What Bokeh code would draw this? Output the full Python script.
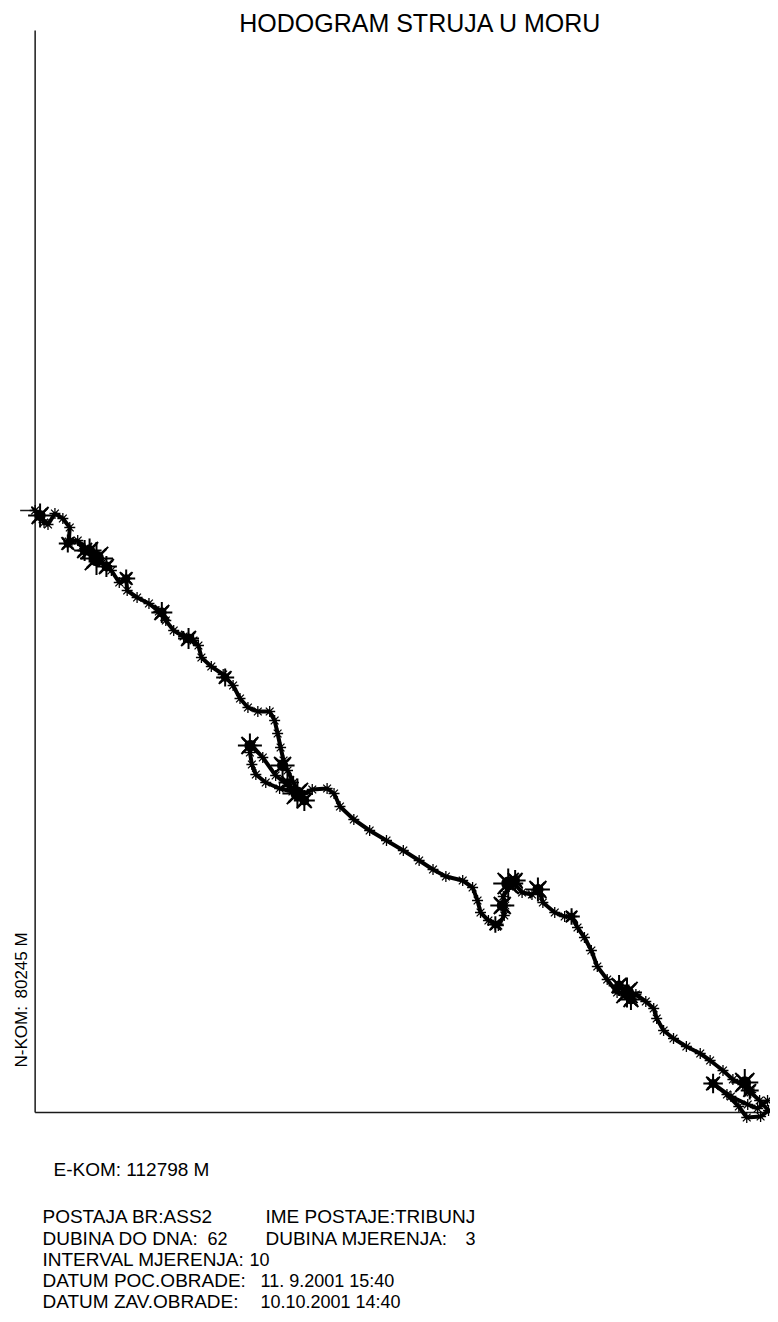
import math
from bokeh.plotting import figure
from bokeh.models import Range1d, Label
from bokeh.embed import file_html
from bokeh.resources import INLINE

# progressive vector path (km east, km north from the start point)
path_e = [0.0, 0.75, 1.35, 1.95, 3.0, 4.2, 5.25, 5.1, 6.45, 7.5, 9.0, 10.2, 11.55, 12.75, 13.8,
          13.95, 15.45, 17.25, 18.75, 19.8, 21.0, 22.5, 24.0, 24.75, 25.2, 26.7, 28.5, 30.0,
          31.05, 32.25, 33.75, 35.55, 36.3, 36.75, 37.2, 37.65, 38.25, 39.15, 39.9, 38.55,
          36.45, 34.5, 32.85, 32.55, 32.85, 33.45, 34.95, 37.05, 39.0, 40.5, 42.0, 44.25,
          45.3, 46.2, 48.3, 50.7, 53.25, 55.8, 58.2, 60.3, 62.25, 64.8, 66.3, 67.05, 67.5,
          68.7, 70.2, 71.1, 71.25, 70.95, 71.85, 72.75, 73.8, 75.3, 76.35, 76.95, 78.75,
          80.25, 81.3, 82.2, 83.25, 84.3, 85.2, 86.7, 88.2, 89.7, 91.05, 92.55, 93.75, 94.2,
          95.25, 96.75, 98.7, 100.8, 102.3, 104.25, 105.75, 107.25, 108.45, 109.8, 111.15,
          109.95, 107.85, 106.65, 104.85, 102.75, 105.45, 108.0, 109.5, 111.0]
path_n = [0.0, -0.75, -1.8, -2.1, -0.45, -1.2, -2.55, -4.65, -4.5, -5.7, -6.9, -7.8, -9.0,
          -10.8, -10.2, -12.0, -13.05, -13.95, -15.15, -16.5, -18.0, -18.9, -19.5, -20.25,
          -22.05, -23.4, -24.6, -26.25, -28.2, -29.55, -30.15, -30.15, -31.5, -33.45, -35.55,
          -37.5, -39.0, -40.8, -42.3, -41.4, -39.75, -37.05, -35.25, -36.3, -38.1, -39.6,
          -40.8, -41.7, -42.15, -42.6, -41.85, -41.7, -42.45, -44.4, -46.35, -48.0, -49.5,
          -51.0, -52.5, -53.85, -54.9, -55.5, -56.55, -58.5, -60.3, -61.5, -62.25, -60.75,
          -59.25, -57.9, -56.4, -56.1, -57.3, -57.6, -56.85, -58.8, -60.3, -60.9, -60.9,
          -62.55, -64.05, -66.0, -68.4, -70.35, -72.3, -72.45, -72.6, -73.65, -74.7, -76.2,
          -78.0, -79.2, -80.4, -81.45, -82.5, -84.0, -85.35, -86.1, -87.3, -88.5, -90.0,
          -90.9, -91.05, -89.4, -87.6, -85.95, -87.9, -89.1, -89.7, -88.5]

# clusters of oscillating (tidal) vectors
burst_e = [0.75, 4.95, 9.3, 8.25, 13.8, 19.2, 23.25, 28.8, 39.75, 32.55, 37.5, 71.7, 70.8,
           76.2, 81.3, 89.7, 107.55, 102.75, 69.75, 7.5, 10.8, 72.75, 88.5, 90.3, 38.25,
           40.8, 108.3]
burst_n = [-0.75, -4.95, -7.2, -6.0, -10.2, -15.3, -19.2, -25.05, -42.45, -35.25, -38.25,
           -55.95, -59.25, -56.85, -60.9, -72.3, -85.8, -85.95, -62.1, -6.0, -8.4, -55.5,
           -71.25, -73.35, -40.8, -43.5, -87.0]
burst_size = [16, 12, 22, 16, 12, 14, 14, 12, 20, 16, 16, 20, 16, 16, 11, 20, 18, 13, 11,
              14, 14, 14, 14, 14, 12, 14, 12]

# axis extents (km)
axis_e = [0.0, 111.45]
axis_n = [-90.3, 72.0]
tick_n = [0.0]

title_text = "HODOGRAM STRUJA U MORU"
n_label = ["N-KOM:", "80245 M"]
e_label = "E-KOM: 112798 M"
info_left = ["POSTAJA BR:ASS2", "DUBINA DO DNA:", "INTERVAL MJERENJA:", "DATUM POC.OBRADE:",
             "DATUM ZAV.OBRADE:"]
info_left_val = ["", "62", "10", "11. 9.2001 15:40", "10.10.2001 14:40"]
info_right = ["IME POSTAJE:TRIBUNJ", "DUBINA MJERENJA:", "", "", ""]
info_right_val = ["", "3", "", "", ""]

W, H = 770, 1314
X0, X1 = -5.25, 111.45
Y0, Y1 = -120.6, 76.5

p = figure(width=W, height=H, output_backend="svg", toolbar_location=None,
           x_range=Range1d(X0, X1), y_range=Range1d(Y0, Y1),
           x_axis_location=None, y_axis_location=None, min_border=0)
p.outline_line_color = None
p.background_fill_color = "white"
p.border_fill_color = "white"
for g in p.grid:
    g.visible = False

KM_PER_PX_X = (X1 - X0) / W
AX_COL = "#1a1a1a"
# axes
p.line([axis_e[0], axis_e[0]], [axis_n[0], axis_n[1]], line_color=AX_COL, line_width=1.5)
p.line([axis_e[0], axis_e[1]], [axis_n[0], axis_n[0]], line_color=AX_COL, line_width=1.5)
p.segment(x0=[axis_e[0] - 15 * KM_PER_PX_X], y0=tick_n, x1=[axis_e[0]], y1=tick_n,
          line_color=AX_COL, line_width=1.5)

# hodograph
p.line(path_e, path_n, line_color="black", line_width=4)
p.scatter(path_e, path_n, marker="asterisk", size=11, line_color="black", line_width=1.3)
p.scatter(burst_e, burst_n, marker="asterisk", size=[s * 1.5 for s in burst_size],
          line_color="black", line_width=2)
p.scatter(burst_e, burst_n, marker="x", size=[s * 1.25 for s in burst_size],
          line_color="black", line_width=2.5)
p.scatter(burst_e, burst_n, marker="circle", size=[s * 0.7 for s in burst_size],
          fill_color="black", line_color=None)


def pos(px, py):
    # picture pixel -> data coordinates
    return X0 + px * (X1 - X0) / W, Y1 - py * (Y1 - Y0) / H


FONT = "Liberation Sans"


def add_text(txt, px, py, size, align="left", angle=0.0):
    if not txt:
        return
    x, y = pos(px, py)
    p.add_layout(Label(x=x, y=y, text=txt, text_font=FONT, text_font_size=size,
                       text_align=align, text_baseline="middle", text_color="black",
                       angle=angle))


add_text(title_text, 420, 22, "25px", align="center")
add_text(n_label[0], 21, 1067, "17px", angle=math.pi / 2)
add_text(n_label[1], 21, 998, "17px", angle=math.pi / 2)
add_text(e_label, 53, 1169, "19px")

rows_y = [1216, 1238, 1259, 1280, 1301]
left_val_x = [0, 207, 249, 260, 260]
for i, yy in enumerate(rows_y):
    add_text(info_left[i], 42, yy, "19px")
    add_text(info_left_val[i], left_val_x[i], yy, "18px")
    add_text(info_right[i], 265, yy, "19px")
    add_text(info_right_val[i], 465, yy, "18px")

open("out.html", "w").write(file_html(p, INLINE))
